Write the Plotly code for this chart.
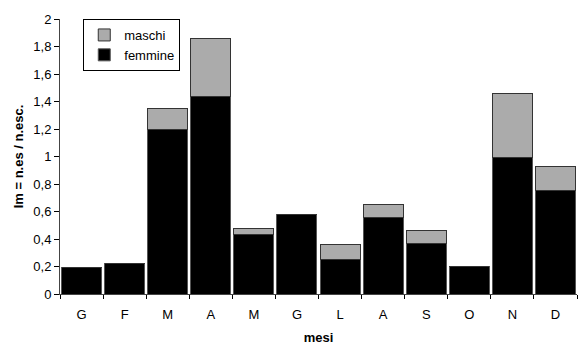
import plotly.graph_objects as go

months = ["gen", "feb", "mar", "apr", "mag", "giu", "lug", "ago", "set", "ott", "nov", "dic"]
month_labels = ["G", "F", "M", "A", "M", "G", "L", "A", "S", "O", "N", "D"]
femmine_total = [0.19, 0.22, 1.20, 1.44, 0.43, 0.58, 0.25, 0.56, 0.37, 0.20, 0.99, 0.75]
maschi_total = [0.19, 0.22, 1.35, 1.86, 0.48, 0.58, 0.36, 0.65, 0.46, 0.20, 1.46, 0.93]
maschi = [round(t - f, 3) for t, f in zip(maschi_total, femmine_total)]
y_tickvals = [0, 0.2, 0.4, 0.6, 0.8, 1, 1.2, 1.4, 1.6, 1.8, 2]
y_ticktext = ["0", "0,2", "0,4", "0,6", "0,8", "1", "1,2", "1,4", "1,6", "1,8", "2"]

fig = go.Figure()
fig.add_trace(go.Bar(
    x=months, y=femmine_total, name="femmine",
    marker=dict(color="black", line=dict(color="#555555", width=1)),
))
fig.add_trace(go.Bar(
    x=months, y=maschi, name="maschi",
    marker=dict(color="#a8a8a8", line=dict(color="#333333", width=1),
                pattern=dict(shape=".", fgcolor="#7a7a7a", bgcolor="#b8b8b8", size=2, solidity=0.5)),
))

font = "Liberation Sans, Arial, sans-serif"
fig.update_layout(
    barmode="stack",
    bargap=0.07,
    width=585, height=354,
    margin=dict(l=60, r=8, t=19, b=60),
    paper_bgcolor="white", plot_bgcolor="white",
    font=dict(family=font, size=13, color="black"),
    showlegend=True,
    legend=dict(x=0.045, y=1.0, xanchor="left", yanchor="top",
                bordercolor="black", borderwidth=1, bgcolor="white",
                font=dict(size=13), traceorder="reversed",
                itemwidth=30, tracegroupgap=2),
    xaxis=dict(
        type="category", tickvals=months, ticktext=month_labels,
        tickson="boundaries", ticks="outside", ticklen=4, tickcolor="black",
        ticklabelstandoff=8,
        showline=True, linecolor="#444444", linewidth=1,
        title=dict(text="<b>mesi</b>", font=dict(size=13), standoff=12),
        tickfont=dict(size=13),
    ),
    yaxis=dict(
        range=[0, 2], tickvals=y_tickvals, ticktext=y_ticktext,
        ticks="outside", ticklen=5, tickcolor="black",
        showline=True, linecolor="#444444", linewidth=1,
        showgrid=False, zeroline=False,
        title=dict(text="<b>Im = n.es / n.esc.</b>", font=dict(size=13), standoff=6),
        tickfont=dict(size=13),
    ),
)
fig.write_html("out.html")
